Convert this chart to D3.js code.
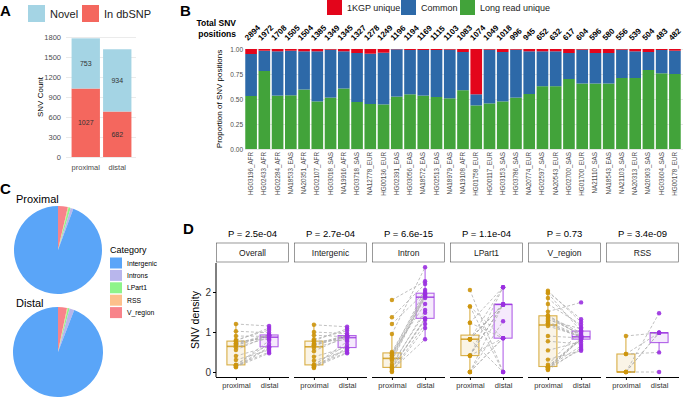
<!DOCTYPE html>
<html lang="en">
<head>
<meta charset="UTF-8">
<title>SNV proximal vs distal</title>
<script src="https://d3js.org/d3.v7.min.js"></script>
<style>
  body { margin: 0; background: #fff; font-family: "Liberation Sans", Arial, sans-serif; }
  svg { display: block; }
</style>
</head>
<body>
<svg width="685" height="397"></svg>
<script>
// ---------- A : SNV counts ----------
const aGroups = ["proximal", "distal"];
const aDbsnp = [1027, 682];
const aNovel = [753, 934];
const aTicks = [0, 300, 600, 900, 1200, 1500, 1800];

// ---------- B : per-sample SNV positions ----------
const bSamples = ["HG03196_AFR","HG02433_AFR","HG02284_AFR","NA18533_EAS","NA20351_AFR","HG02107_AFR",
  "HG03018_SAS","NA19916_AFR","HG03718_SAS","NA12778_EUR","HG00136_EUR","HG02391_EAS","HG03056_EAS",
  "NA18572_EAS","HG02513_EAS","NA18979_EAS","NA19108_AFR","HG01758_EUR","HG00117_EUR","HG03153_SAS",
  "HG03786_SAS","NA20774_EUR","HG02597_SAS","NA20543_EUR","HG02700_SAS","HG01700_EUR","NA21110_SAS",
  "NA18543_EAS","NA21103_SAS","NA20313_EUR","NA20903_SAS","HG03604_SAS","HG00178_EUR"];
const bTotals = [2894,1972,1708,1505,1504,1385,1349,1345,1327,1278,1249,1196,1194,1169,1115,1103,1083,
  1074,1049,1018,996,945,652,632,617,604,596,580,556,539,504,483,482];
const bLongRead = [0.53,0.78,0.534,0.537,0.595,0.476,0.514,0.605,0.47,0.45,0.446,0.524,0.547,0.534,0.52,
  0.507,0.588,0.436,0.456,0.476,0.514,0.55,0.628,0.628,0.70,0.655,0.655,0.655,0.71,0.71,0.79,0.757,0.75];
const bKgp = [0.05,0.017,0.023,0.017,0.023,0.023,0.007,0.023,0.04,0.047,0.037,0.003,0.01,0.01,0.01,
  0.007,0.03,0.453,0.007,0.03,0.007,0.023,0.023,0.023,0.04,0.007,0.04,0.04,0.007,0.023,0.03,0.01,0.017];
const bTicks = [0, 0.25, 0.5, 0.75, 1];

// ---------- C : category pies ----------
const cCategories = ["Intergenic", "Introns", "LPart1", "RSS", "V_region"];
const cProximal = [1679, 18, 14, 5, 64];
const cDistal = [1521, 28, 10, 5, 52];

// ---------- D : SNV density per sample ----------
const dFacets = ["Overall", "Intergenic", "Intron", "LPart1", "V_region", "RSS"];
const dPvalues = ["2.5e-04", "2.7e-04", "6.6e-15", "1.1e-04", "0.73", "3.4e-09"];
const dProximal = [
  [0.66,0.12,0.90,0.17,0.72,0.30,1.20,0.15,0.62,0.78,0.13,0.55,1.02,0.18,0.70,0.40,0.80,0.16,0.68,0.77],
  [0.67,0.10,0.92,0.17,0.71,0.28,1.18,0.14,0.60,0.78,0.12,0.52,1.00,0.18,0.69,0.38,0.82,0.16,0.66,0.77],
  [0.36,0.0,1.80,0.12,0.45,0.05,0.95,0.20,0.32,0.50,0.02,0.28,1.37,0.10,0.42,0.08,1.20,0.15,0.40,0.47],
  [0.82,0,2.05,0.41,0.82,0,1.64,0.41,0.82,1.23,0,0.41,1.64,0.41,0.82,0,1.23,0.41,0.82,0.82],
  [1.20,0.05,2.03,0.13,1.38,0.31,1.97,0.08,1.26,1.51,0.12,0.90,1.85,0.10,1.40,0.54,2.00,0.07,1.22,1.33,
   0.14,0.77,1.70,0.12,1.15,0.18,1.42,1.30],
  [0,0.45,0,0.9,0,0.45,0]
];
const dDistal = [
  [0.92,0.60,0.89,0.78,0.93,0.55,1.15,0.62,0.85,1.10,0.47,0.91,0.98,0.70,0.925,0.635,1.05,0.50,0.90,0.82],
  [0.90,0.58,0.88,0.76,0.915,0.53,1.13,0.60,0.84,1.08,0.47,0.895,0.96,0.68,0.91,0.615,1.03,0.49,0.89,0.80],
  [1.93,1.10,2.27,1.33,2.05,0.82,2.62,1.48,1.89,1.96,1.20,1.90,2.20,1.30,1.95,1.345,2.00,1.55,1.85,1.70],
  [1.69,0.846,0,2.12,1.69,0.846,0,1.69,2.12,0.846,1.27,1.69,0.846,1.69,0,1.69,2.12,0.846,1.69,1.69],
  [0.87,0.60,1.25,0.81,0.92,0.53,1.02,0.83,0.89,1.74,0.65,0.85,1.12,0.56,0.98,0.76,1.32,0.825,0.875,0.95,
   0.84,0.70,1.18,0.86,0.885,1.035,0.90,1.08],
  [0.98,0.49,1.47,0.98,0,0.98,0.98]
];
const dTicks = [0, 1, 2];

const FONT = "'Liberation Sans', Arial, sans-serif";
const svg = d3.select("svg").style("font-family", FONT);

function tag(t, x, y) {
  svg.append("text").attr("x", x).attr("y", y).attr("font-size", 15)
    .attr("font-weight", "bold").text(t);
}
function styleAxis(g, size, color) {
  g.attr("font-family", FONT).attr("font-size", size);
  g.selectAll("text").attr("fill", color);
}

// ================= A =================
tag("A", 0, 16);
const aRows = aGroups.map((g, i) => ({ group: g, "In dbSNP": aDbsnp[i], "Novel": aNovel[i] }));
const aKeys = ["In dbSNP", "Novel"];
const aColor = d3.scaleOrdinal().domain(aKeys).range(["#F4675E", "#A4D4E4"]);
const ax = d3.scaleBand().domain(aGroups).range([70, 133]).paddingInner(0.1).paddingOuter(0.05);
const ay = d3.scaleLinear().domain([0, 1800]).range([157, 37]);

svg.append("g").attr("transform", "translate(66,0)")
  .call(d3.axisLeft(ay).tickValues(aTicks).tickSize(-70).tickFormat(""))
  .call(g => g.select(".domain").remove())
  .call(g => g.selectAll("line").attr("stroke", "#ebebeb"));
svg.append("g").attr("transform", "translate(66,0)")
  .call(d3.axisLeft(ay).tickValues(aTicks).tickSize(0).tickPadding(5).tickFormat(d3.format("d")))
  .call(g => g.select(".domain").remove())
  .call(g => styleAxis(g, 7.5, "#4d4d4d"));
svg.append("g").attr("transform", "translate(0,160)")
  .call(d3.axisBottom(ax).tickSize(0).tickPadding(5))
  .call(g => g.select(".domain").remove())
  .call(g => styleAxis(g, 7.5, "#4d4d4d"));
svg.append("text").attr("transform", "translate(43,97) rotate(-90)")
  .attr("text-anchor", "middle").attr("font-size", 8).text("SNV Count");

const aStack = d3.stack().keys(aKeys)(aRows);
aStack.forEach(layer => {
  svg.append("g").selectAll("rect").data(layer).join("rect")
    .attr("x", d => ax(d.data.group)).attr("width", ax.bandwidth())
    .attr("y", d => ay(d[1])).attr("height", d => ay(d[0]) - ay(d[1]))
    .attr("fill", aColor(layer.key));
  svg.append("g").selectAll("text").data(layer).join("text")
    .attr("x", d => ax(d.data.group) + ax.bandwidth() / 2)
    .attr("y", d => ay((d[0] + d[1]) / 2) + 2.5)
    .attr("text-anchor", "middle").attr("font-size", 7).attr("fill", "#333")
    .text(d => d[1] - d[0]);
});
// legend A
["Novel", "In dbSNP"].forEach((k, i) => {
  const x0 = [28, 82][i];
  svg.append("rect").attr("x", x0).attr("y", 5).attr("width", 17).attr("height", 17).attr("fill", aColor(k));
  svg.append("text").attr("x", x0 + 22).attr("y", 17.5).attr("font-size", 11).attr("fill", "#222").text(k);
});

// ================= B =================
tag("B", 180, 16);
const bRows = bSamples.map((s, i) => ({
  sample: s, total: bTotals[i],
  "Long read unique": bLongRead[i],
  "Common": 1 - bLongRead[i] - bKgp[i],
  "1KGP unique": bKgp[i]
}));
const bKeys = ["Long read unique", "Common", "1KGP unique"];
const bColor = d3.scaleOrdinal().domain(bKeys).range(["#42A33A", "#2D69A8", "#E3051B"]);
const bx = d3.scaleBand().domain(bSamples).range([245, 681]).paddingInner(0.12).paddingOuter(0.02);
const by = d3.scaleLinear().domain([0, 1]).range([149, 49]);

svg.append("g").attr("transform", "translate(245,0)")
  .call(d3.axisLeft(by).tickValues(bTicks).tickSize(-438).tickFormat(""))
  .call(g => g.select(".domain").remove())
  .call(g => g.selectAll("line").attr("stroke", "#e6e6e6"));
svg.append("g").attr("transform", "translate(245,0)")
  .call(d3.axisLeft(by).tickValues(bTicks).tickSize(0).tickPadding(2).tickFormat(d3.format(".2f")))
  .call(g => g.select(".domain").remove())
  .call(g => styleAxis(g, 6.5, "#4d4d4d"));
svg.append("text").attr("transform", "translate(222,99) rotate(-90)")
  .attr("text-anchor", "middle").attr("font-size", 8).text("Proportion of SNV positions");

d3.stack().keys(bKeys)(bRows).forEach(layer => {
  svg.append("g").selectAll("rect").data(layer).join("rect")
    .attr("x", d => bx(d.data.sample)).attr("width", bx.bandwidth())
    .attr("y", d => by(d[1])).attr("height", d => by(d[0]) - by(d[1]))
    .attr("fill", bColor(layer.key));
});
svg.append("g").attr("transform", "translate(0,149)")
  .call(d3.axisBottom(bx).tickSize(0).tickPadding(3))
  .call(g => g.select(".domain").remove())
  .call(g => styleAxis(g, 6.3, "#4d4d4d"))
  .call(g => g.selectAll("text").attr("transform", "rotate(-90)")
    .attr("text-anchor", "end").attr("dy", "0.32em").attr("x", -3).attr("y", 0));
svg.append("g").selectAll("text").data(bRows).join("text")
  .attr("transform", d => `translate(${bx(d.sample) + bx.bandwidth() / 2 - 3},41) rotate(-45)`)
  .attr("font-size", 8).attr("font-weight", "bold").text(d => d.total);
svg.append("text").attr("x", 236).attr("y", 26).attr("text-anchor", "end")
  .attr("font-size", 8.5).attr("font-weight", "bold").text("Total SNV");
svg.append("text").attr("x", 236).attr("y", 37).attr("text-anchor", "end")
  .attr("font-size", 8.5).attr("font-weight", "bold").text("positions");
// legend B
[["1KGP unique", 327], ["Common", 401], ["Long read unique", 460]].forEach(([k, x0]) => {
  svg.append("rect").attr("x", x0).attr("y", 0).attr("width", 15).attr("height", 15).attr("fill", bColor(k));
  svg.append("text").attr("x", x0 + 20).attr("y", 11).attr("font-size", 9).attr("fill", "#222").text(k);
});

// ================= C =================
tag("C", 0, 194);
const cColor = d3.scaleOrdinal().domain(cCategories)
  .range(["#5AA5F8", "#B8B6EC", "#8EF48A", "#FDC08B", "#F8838A"]);
const cOrder = ["V_region", "RSS", "LPart1", "Introns", "Intergenic"];
const pie = d3.pie().sort(null).value(d => d.v);
[["Proximal", cProximal, 58, 250, 44, 203], ["Distal", cDistal, 58, 352, 45, 307]].forEach(([name, vals, cx, cy, r, ty]) => {
  const data = cOrder.map(k => ({ k, v: vals[cCategories.indexOf(k)] }));
  const arc = d3.arc().innerRadius(0).outerRadius(r);
  svg.append("g").attr("transform", `translate(${cx},${cy})`)
    .selectAll("path").data(pie(data)).join("path")
    .attr("d", arc).attr("fill", d => cColor(d.data.k));
  svg.append("text").attr("x", 16).attr("y", ty).attr("font-size", 11).text(name);
});
svg.append("text").attr("x", 110).attr("y", 253).attr("font-size", 9).text("Category");
cCategories.forEach((k, i) => {
  svg.append("rect").attr("x", 110).attr("y", 257.5 + i * 12.4).attr("width", 12).attr("height", 11)
    .attr("fill", cColor(k));
  svg.append("text").attr("x", 127).attr("y", 265.5 + i * 12.4).attr("font-size", 6.8).text(k);
});

// ================= D =================
tag("D", 183, 234);
const dy = d3.scaleLinear().domain([-0.125, 2.725]).range([377, 263]);
const propColor = "#CD950C", distColor = "#9A30E0";
const pw = 73;

function boxStats(vals) {
  const s = vals.slice().sort(d3.ascending);
  const q1 = d3.quantileSorted(s, 0.25), med = d3.quantileSorted(s, 0.5), q3 = d3.quantileSorted(s, 0.75);
  const iqr = q3 - q1;
  return {
    q1, med, q3,
    lo: d3.min(s.filter(v => v >= q1 - 1.5 * iqr)),
    hi: d3.max(s.filter(v => v <= q3 + 1.5 * iqr))
  };
}

svg.append("g").attr("transform", "translate(216,0)")
  .call(d3.axisLeft(dy).tickValues(dTicks).tickSize(3).tickSizeOuter(0).tickPadding(2).tickFormat(d3.format("d")))
  .call(g => styleAxis(g, 10, "#333"))
  .call(g => g.select(".domain").attr("d", `M0,${dy.range()[0]}V${dy.range()[1]}`));
svg.append("text").attr("transform", "translate(199,320) rotate(-90)")
  .attr("text-anchor", "middle").attr("font-size", 10.5).text("SNV density");

dFacets.forEach((f, i) => {
  const left = 216 + i * 78;
  const px = d3.scalePoint().domain(["proximal", "distal"]).range([left, left + pw]).padding(0.6);
  const g = svg.append("g");

  g.append("text").attr("x", left + pw / 2).attr("y", 237).attr("text-anchor", "middle")
    .attr("font-size", 9.5).text("P = " + dPvalues[i]);
  g.append("rect").attr("x", left + 0.5).attr("y", 243).attr("width", pw - 1).attr("height", 19)
    .attr("fill", "#fff").attr("stroke", "#555").attr("stroke-width", 0.6);
  g.append("text").attr("x", left + pw / 2).attr("y", 256).attr("text-anchor", "middle")
    .attr("font-size", 8.5).attr("fill", "#1a1a1a").text(f);

  g.append("g").attr("transform", "translate(0,377)")
    .call(d3.axisBottom(px).tickSize(3).tickSizeOuter(0).tickPadding(3))
    .call(a => styleAxis(a, 7.5, "#333"))
    .call(a => a.select(".domain").attr("d", `M${left},0.5H${left + pw}`));

  [["proximal", dProximal[i], propColor], ["distal", dDistal[i], distColor]].forEach(([k, vals, col]) => {
    const b = boxStats(vals), x = px(k), w = 18;
    g.append("line").attr("x1", x).attr("x2", x).attr("y1", dy(b.hi)).attr("y2", dy(b.q3))
      .attr("stroke", col).attr("stroke-opacity", 0.75).attr("stroke-width", 1.1);
    g.append("line").attr("x1", x).attr("x2", x).attr("y1", dy(b.q1)).attr("y2", dy(b.lo))
      .attr("stroke", col).attr("stroke-opacity", 0.75).attr("stroke-width", 1.1);
    g.append("rect").attr("x", x - w / 2).attr("width", w).attr("y", dy(b.q3))
      .attr("height", Math.max(0.5, dy(b.q1) - dy(b.q3)))
      .attr("fill", col).attr("fill-opacity", 0.1)
      .attr("stroke", col).attr("stroke-opacity", 0.75).attr("stroke-width", 1.1);
    g.append("line").attr("x1", x - w / 2).attr("x2", x + w / 2).attr("y1", dy(b.med)).attr("y2", dy(b.med))
      .attr("stroke", col).attr("stroke-opacity", 0.8).attr("stroke-width", 1.6);
  });

  g.append("g").selectAll("line").data(dProximal[i]).join("line")
    .attr("x1", px("proximal")).attr("x2", px("distal"))
    .attr("y1", d => dy(d)).attr("y2", (d, j) => dy(dDistal[i][j]))
    .attr("stroke", "#b0b0b0").attr("stroke-width", 0.8).attr("stroke-dasharray", "3,2");

  [["proximal", dProximal[i], propColor], ["distal", dDistal[i], distColor]].forEach(([k, vals, col]) => {
    g.append("g").selectAll("circle").data(vals).join("circle")
      .attr("cx", px(k)).attr("cy", d => dy(d)).attr("r", 2.2)
      .attr("fill", col).attr("fill-opacity", 0.9);
  });
});
</script>
</body>
</html>
